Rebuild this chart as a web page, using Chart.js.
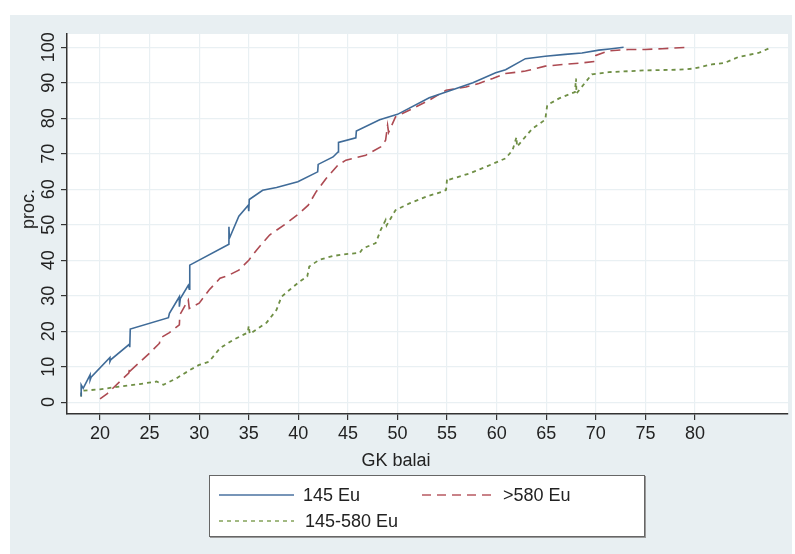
<!DOCTYPE html>
<html lang="lt">
<head>
<meta charset="utf-8">
<title>GK balai</title>
<script src="https://cdn.jsdelivr.net/npm/chart.js@4.4.1/dist/chart.umd.min.js"></script>
<style>
    body { margin: 0; background: #ffffff; font-family: "Liberation Sans", Arial, sans-serif; color: #222; }
    #lienzo { position: relative; width: 795px; height: 554px; overflow: hidden; }
    #panel { position: absolute; left: 10px; top: 15px; width: 782px; height: 539px; background: #e8eff2; }
    #grafica { position: absolute; left: 0; top: 0; }
    .titulo { position: absolute; font-size: 18px; white-space: nowrap; line-height: 20px; }
    #tituloY { left: 28px; top: 209px; transform: translate(-50%, -50%) rotate(-90deg); }
    #tituloX { left: 396px; top: 460px; transform: translate(-50%, -50%); }
    #leyenda { position: absolute; left: 209px; top: 475px; width: 436px; height: 62px; box-sizing: border-box;
               background: #ffffff; border: 1px solid #666; box-shadow: 1px 1px 0 #999; }
    #leyenda svg { position: absolute; left: 0; top: 0; }
    #leyenda span { position: absolute; font-size: 18px; line-height: 20px; }
</style>
</head>
<body>
<div id="lienzo">
    <div id="panel"></div>
    <canvas id="grafica" width="795" height="554"></canvas>
    <div class="titulo" id="tituloY">proc.</div>
    <div class="titulo" id="tituloX">GK balai</div>
    <div id="leyenda">
        <svg width="434" height="60">
            <line x1="9" y1="19" x2="84" y2="19" stroke="#4a72a0" stroke-width="1.5"/>
            <line x1="212" y1="19" x2="286" y2="19" stroke="#b85a62" stroke-width="1.5" stroke-dasharray="9 6"/>
            <line x1="9" y1="45" x2="84" y2="45" stroke="#84a25a" stroke-width="1.5" stroke-dasharray="4 4"/>
        </svg>
        <span style="left: 93px; top: 9px;">145 Eu</span>
        <span style="left: 293px; top: 9px;">&gt;580 Eu</span>
        <span style="left: 95px; top: 35px;">145-580 Eu</span>
    </div>
</div>

<script>
// Datos (x = GK balai, y = proc.)
const azulX = [18.1, 18.1, 18.3, 19.0, 19.0, 19.1, 21.0, 21.0, 21.1, 22.95, 23.0, 23.05, 26.9, 27.0, 28.0, 28.0, 28.1, 28.9, 29.0, 29.05,
    33.0, 33.0, 33.05, 34.0, 34.95, 35.0, 35.05, 36.4, 37.8, 39.95, 41.95, 42.0, 43.5, 44.0, 44.05, 45.8, 45.85, 48.2, 50.0,
    53.2, 54.9, 57.6, 59.9, 60.9, 62.9, 64.9, 66.9, 68.6, 70.3, 71.6, 72.8];
const azulY = [1.6, 4.9, 3.9, 7.7, 6.2, 7.0, 12.6, 11.4, 12.0, 16.3, 15.5, 20.6, 23.8, 25.0, 29.7, 26.9, 29.2, 32.9, 31.8, 38.6,
    44.5, 49.4, 46.2, 52.4, 55.5, 53.8, 57.1, 59.7, 60.5, 62.1, 64.9, 67.0, 69.1, 70.5, 73.2, 74.5, 76.4, 79.6, 81.1,
    85.8, 87.4, 90.0, 92.8, 93.7, 96.8, 97.5, 98.0, 98.4, 99.2, 99.6, 100];

const rojoX = [20.0, 20.7, 22.0, 22.9, 23.0, 23.05, 25.0, 26.0, 26.05, 27.0, 28.0, 28.05, 28.9, 29.0, 30.0, 31.0, 32.1, 33.0, 34.0, 35.0,
    35.8, 37.1, 38.8, 40.1, 41.0, 41.8, 42.8, 44.0, 44.8, 46.8, 48.3, 48.8, 49.0, 49.1, 49.8, 51.5, 53.2, 54.9, 56.9,
    58.2, 59.6, 60.9, 62.9, 64.9, 66.9, 68.6, 69.9, 70.0, 71.3, 73.3, 75.0, 76.7, 79.2];
const rojoY = [0.9, 2.3, 5.8, 8.2, 9.8, 8.8, 13.8, 16.6, 18.0, 19.6, 21.8, 24.6, 28.8, 26.4, 27.9, 31.6, 34.9, 35.8, 37.2, 40.0,
    42.9, 47.1, 50.4, 53.2, 55.5, 59.3, 63.0, 66.8, 68.2, 69.6, 71.9, 73.8, 78.0, 76.0, 80.4, 82.7, 85.1, 87.9, 88.8,
    89.8, 91.2, 92.6, 93.3, 94.7, 95.2, 95.6, 96.0, 97.7, 99.0, 99.4, 99.4, 99.6, 100];

const verdeX = [18.1, 18.1, 20.0, 22.0, 24.0, 25.7, 26.4, 27.7, 29.1, 30.0, 31.0, 32.1, 33.4, 34.9, 35.0, 35.1, 36.8, 37.8, 38.3, 39.1,
    40.1, 40.9, 41.1, 42.1, 43.5, 44.8, 46.2, 46.5, 47.8, 48.3, 48.8, 48.9, 49.8, 51.2, 52.9, 54.5, 54.9, 55.0, 55.1,
    57.2, 58.9, 60.9, 61.6, 62.0, 62.05, 63.6, 64.9, 65.1, 66.3, 67.9, 68.0, 68.05, 69.6, 71.3, 75.0, 78.4, 79.9, 81.7,
    83.0, 84.4, 86.4, 87.7];
const verdeY = [1.6, 3.2, 3.6, 4.4, 5.1, 5.8, 4.9, 6.7, 9.1, 10.5, 11.4, 15.2, 17.5, 19.6, 21.5, 19.2, 22.4, 26.0, 29.7, 31.6,
    33.9, 35.4, 38.2, 40.1, 41.2, 41.7, 42.1, 43.3, 44.8, 48.5, 51.3, 49.8, 54.1, 56.0, 57.9, 59.3, 59.8, 63.0, 62.6,
    64.4, 66.3, 68.7, 71.0, 74.7, 72.0, 77.1, 79.6, 83.7, 85.6, 87.4, 91.2, 87.0, 92.4, 93.0, 93.5, 93.7, 94.0, 95.2,
    95.6, 97.3, 98.4, 100];

// Marcas de los ejes
const ticksX = [20, 25, 30, 35, 40, 45, 50, 55, 60, 65, 70, 75, 80];
const ticksY = [0, 10, 20, 30, 40, 50, 60, 70, 80, 90, 100];

function aPuntos(xs, ys) {
    return xs.map((x, i) => ({ x: x, y: ys[i] }));
}

// Pinta de blanco solo el área de trazado
const fondoBlanco = {
    id: 'fondoBlanco',
    beforeDraw(chart) {
        const { ctx, chartArea: a } = chart;
        ctx.save();
        ctx.fillStyle = '#ffffff';
        ctx.fillRect(a.left, a.top, a.right - a.left, a.bottom - a.top);
        ctx.restore();
    }
};

Chart.defaults.font.family = '"Liberation Sans", Arial, sans-serif';
Chart.defaults.font.size = 18;
Chart.defaults.color = '#222';

const ctx = document.getElementById('grafica').getContext('2d');
new Chart(ctx, {
    type: 'line',
    data: {
        datasets: [
            { label: '145 Eu', data: aPuntos(azulX, azulY), borderColor: '#3f6b98', borderWidth: 1.6 },
            { label: '>580 Eu', data: aPuntos(rojoX, rojoY), borderColor: '#ad4a52', borderWidth: 1.6, borderDash: [10, 6] },
            { label: '145-580 Eu', data: aPuntos(verdeX, verdeY), borderColor: '#6f8f45', borderWidth: 1.8, borderDash: [4, 4] }
        ]
    },
    options: {
        responsive: false,
        animation: false,
        devicePixelRatio: 1,
        layout: { padding: { left: 10, top: 34, right: 7, bottom: 100 } },
        elements: { point: { radius: 0 }, line: { tension: 0, fill: false } },
        plugins: { legend: { display: false }, tooltip: { enabled: false } },
        scales: {
            x: {
                type: 'linear',
                min: 16.67,
                max: 89.38,
                afterBuildTicks: (s) => { s.ticks = ticksX.map(v => ({ value: v })); },
                afterFit: (s) => { s.height = 40; },
                grid: { color: '#e9f0f3', lineWidth: 1.2, tickColor: '#333', tickLength: 6 },
                border: { color: '#333', width: 1.5 },
                ticks: { padding: 3, color: '#222', maxRotation: 0 }
            },
            y: {
                type: 'linear',
                min: -3.35,
                max: 103.75,
                afterBuildTicks: (s) => { s.ticks = ticksY.map(v => ({ value: v })); },
                afterFit: (s) => { s.width = 57; },
                grid: { color: '#e9f0f3', lineWidth: 1.2, tickColor: '#333', tickLength: 6 },
                border: { color: '#333', width: 1.5 },
                ticks: { padding: -3, color: '#222', minRotation: 90, maxRotation: 90, crossAlign: 'center' }
            }
        }
    },
    plugins: [fondoBlanco]
});
</script>
</body>
</html>
